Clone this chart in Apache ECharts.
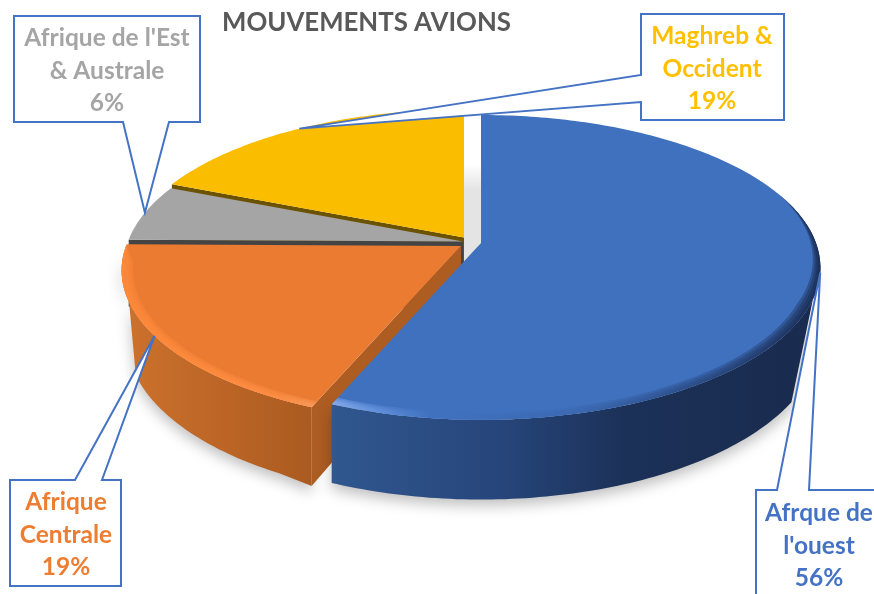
<!DOCTYPE html>
<html>
<head>
<meta charset="utf-8">
<title>Mouvements avions</title>
<style>
  html, body { margin: 0; padding: 0; background: #fff; }
  #chart { width: 874px; height: 594px; }
</style>
<script src="https://cdn.jsdelivr.net/npm/echarts@6/dist/echarts.min.js"></script>
</head>
<body>
<div id="chart"></div>
<script>
// Data, clockwise from 12 o'clock (labels show the rounded share)
const categories = ["Afrque de\nl'ouest", 'Afrique\nCentrale', "Afrique de l'Est\n& Australe", 'Maghreb &\nOccident']
const values = [56.2, 19, 6, 18.8]

const topColors = ['#4071BF', '#EB7B31', '#A5A5A5', '#FBBD00']
const labelColors = ['#4472C4', '#ED7D31', '#A5A5A5', '#FFC000']
const faceColors = ['#2A4A80', '#AD5C22', '#444444', '#6B5200']

// Slice centers (exploded pie), drawn back to front
const centers = [[481, 243], [461, 246], [463, 241.5], [464, 237.5]]
const drawOrder = [3, 2, 1, 0]

// Perspective disc
const RX = 335
const RY = 148.5
const K = 0.16
const DEPTH = 67

const project = (c, deg, r = 1, h = 0) => {
  const a = deg * Math.PI / 180
  const u = Math.sin(a) * r
  const v = -Math.cos(a) * r
  const w = 1 - K * v
  return [c[0] + RX * u / w, c[1] + (RY * v + h) / w]
}

const arc = (c, a0, a1, r = 1, h = 0) => {
  const n = Math.max(2, Math.ceil(Math.abs(a1 - a0)))
  const pts = []
  for (let i = 0; i <= n; i++) pts.push(project(c, a0 + (a1 - a0) * i / n, r, h))
  return pts
}

const total = values.reduce((s, v) => s + v, 0)
const sliceAngles = (i) => {
  const before = values.slice(0, i).reduce((s, v) => s + v, 0)
  return [before / total * 360, (before + values[i]) / total * 360]
}

const gradientX = (x0, x1, stops) => new echarts.graphic.LinearGradient(x0, 0, x1, 0,
  stops.map(s => ({ offset: s[0], color: s[1] })), true)

// Outer wall only for the two front slices, silhouette closes with a straight edge
const wallPoints = {
  0: (c, a0, a1) => arc(c, 98, a1).concat(arc(c, a1, 122, 1, DEPTH)),
  1: (c, a0, a1) => arc(c, a0, 268).concat(arc(c, 248, a0 + 6, 0.985, DEPTH), [project(c, a0, 1, DEPTH)])
}
const wallFills = {
  0: () => gradientX(333, 820, [[0, '#30578F'], [0.35, '#26457A'], [0.6, '#1C3158'], [1, '#192B4E']]),
  1: () => gradientX(122, 320, [[0, '#CC722D'], [0.5, '#BC6526'], [1, '#A95A20']])
}

// Bevel along the front rim
const rims = {
  0: {
    from: 70, to: 202.3, width: 0.035, taper: 'start', ramp: 3,
    fill: () => gradientX(333, 820, [[0, '#8DB3F2'], [0.08, '#6A97E2'], [0.2, '#4071BF'], [0.5, '#3A67AE'], [0.72, '#2A4B85'], [1, '#16264A']])
  },
  1: {
    from: 202.3, to: 270.7, width: 0.032, taper: 'end', ramp: 10,
    fill: () => gradientX(122, 320, [[0, '#FF8A3B'], [0.8, '#FF8F45'], [1, '#F9A064']])
  }
}

const rimBand = (c, rim, frac) => {
  const outer = arc(c, rim.from, rim.to, 1)
  const n = outer.length - 1
  const inner = []
  for (let i = 0; i <= n; i++) {
    const t = i / n
    const deg = rim.from + (rim.to - rim.from) * t
    const edge = rim.taper === 'start' ? t : 1 - t
    const ease = Math.min(1, edge * rim.ramp)
    inner.push(project(c, deg, 1 - rim.width * frac * ease))
  }
  return outer.concat(inner.reverse())
}

const renderSlice = (params, api) => {
  const i = api.value(0)
  const c = centers[i]
  const [a0, a1] = sliceAngles(i)
  const children = []

  // light shadow seen in the gap behind the blue slice
  if (i === drawOrder[0]) {
    const gapTop = c[1] - 73
    const b = centers[0]
    children.push({
      type: 'polygon',
      shape: { points: [[c[0], gapTop], [b[0], gapTop], [b[0], b[1]], [c[0] - 4, b[1] + 26]] },
      style: {
        fill: new echarts.graphic.LinearGradient(0, gapTop, 0, gapTop + 25, [
          { offset: 0, color: '#FFFFFF' }, { offset: 1, color: '#E4E4E4' }
        ], true)
      }
    })
  }

  // wall
  if (wallPoints[i]) {
    children.push({
      type: 'polygon',
      shape: { points: wallPoints[i](c, a0, a1) },
      style: { fill: wallFills[i](), shadowBlur: 14, shadowOffsetY: 6, shadowColor: 'rgba(0,0,0,0.25)' }
    })
  }

  // radial face at the start of the slice (the one turned towards the viewer)
  if (i !== 0) {
    children.push({
      type: 'polygon',
      shape: {
        points: [c, project(c, a0), project(c, a0, 1, DEPTH), [c[0], c[1] + DEPTH]]
      },
      style: { fill: faceColors[i] }
    })
  }

  // top face
  children.push({
    type: 'polygon',
    shape: { points: [c].concat(arc(c, a0, a1)) },
    style: { fill: topColors[i] }
  })

  // bevel, built from a few translucent bands
  if (rims[i]) {
    ;[1, 0.75, 0.5, 0.25].forEach(frac => {
      children.push({
        type: 'polygon',
        shape: { points: rimBand(c, rims[i], frac) },
        style: { fill: rims[i].fill(), opacity: 0.4 }
      })
    })
  }

  return { type: 'group', children }
}

// Callout boxes: position of the frame and base of the pointer on one side
const callouts = [
  { box: [756, 490, 882, 600], side: 'top', base: [777, 809], text: [819, 513] },
  { box: [10, 480, 121, 586], side: 'top', base: [75, 102], text: [66, 502] },
  { box: [14, 16, 200, 122], side: 'bottom', base: [123, 169], text: [107, 38] },
  { box: [641, 14, 784, 120], side: 'left', base: [75, 102], text: [712, 36] }
]

const calloutPoints = (o, tip) => {
  const [x0, y0, x1, y1] = o.box
  const [p, q] = o.base
  if (o.side === 'top') return [[x0, y0], [p, y0], tip, [q, y0], [x1, y0], [x1, y1], [x0, y1]]
  if (o.side === 'bottom') return [[x0, y0], [x1, y0], [x1, y1], [q, y1], tip, [p, y1], [x0, y1]]
  return [[x0, y0], [x1, y0], [x1, y1], [x0, y1], [x0, q], tip, [x0, p]]
}

const renderCallout = (params, api) => {
  const i = api.value(0)
  const [a0, a1] = sliceAngles(i)
  const tip = project(centers[i], (a0 + a1) / 2)
  const o = callouts[i]
  const lines = categories[i].split('\n').concat(Math.round(values[i] / total * 100) + '%')
  const children = [{
    type: 'polygon',
    shape: { points: calloutPoints(o, tip) },
    style: { fill: '#FFFFFF', stroke: '#4472C4', lineWidth: 2 }
  }]
  lines.forEach((line, n) => {
    children.push({
      type: 'text',
      style: {
        text: line,
        x: o.text[0],
        y: o.text[1] + n * 32.7,
        fill: labelColors[i],
        align: 'center',
        verticalAlign: 'middle',
        font: '700 24.5px Lato'
      }
    })
  })
  return { type: 'group', children }
}

const chart = echarts.init(document.getElementById('chart'), null, { renderer: 'canvas' })

chart.setOption({
  animation: false,
  backgroundColor: '#fff',
  title: {
    text: 'MOUVEMENTS AVIONS',
    left: 222,
    top: 10,
    padding: 0,
    textStyle: { fontFamily: 'Lato', fontWeight: 700, fontSize: 25.8, color: '#595959' }
  },
  series: [
    {
      type: 'custom',
      coordinateSystem: 'none',
      silent: true,
      z: 2,
      renderItem: renderSlice,
      data: drawOrder.map(i => [i, values[i]])
    },
    {
      type: 'custom',
      coordinateSystem: 'none',
      silent: true,
      z: 3,
      renderItem: renderCallout,
      data: categories.map((name, i) => [i, values[i]])
    }
  ]
})
</script>
</body>
</html>
